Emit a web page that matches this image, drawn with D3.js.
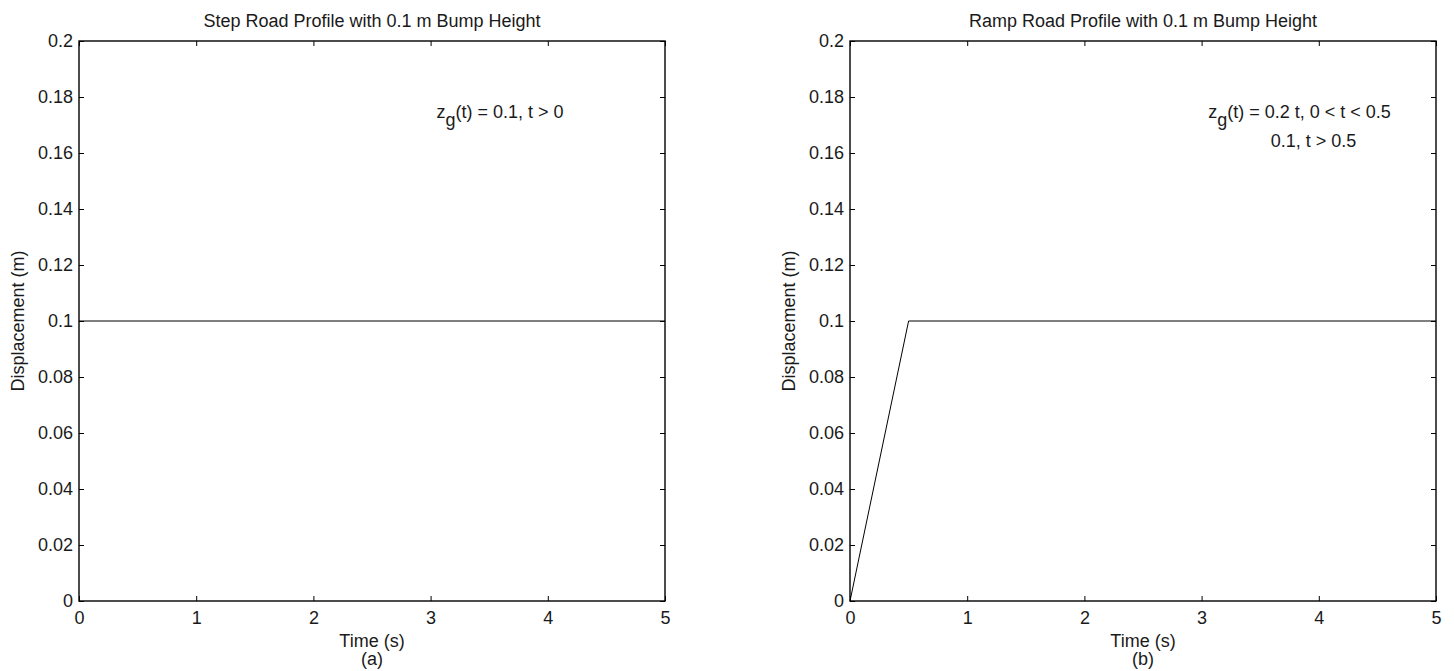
<!DOCTYPE html>
<html><head><meta charset="utf-8">
<script src="https://cdn.jsdelivr.net/npm/d3@7"></script>
<style>
body{margin:0;background:#fff;}
svg text{font-family:"Liberation Sans",Arial,sans-serif;fill:#1a1a1a;}
</style></head>
<body>
<svg id="chart" width="1454" height="671"></svg>
<script>
// Data
const stepT = [0, 5];
const stepZ = [0.1, 0.1];
const rampT = [0, 0.5, 5];
const rampZ = [0, 0.1, 0.1];
const xTicks = [0, 1, 2, 3, 4, 5];
const yTicks = [0, 0.02, 0.04, 0.06, 0.08, 0.1, 0.12, 0.14, 0.16, 0.18, 0.2];
const titles = ["Step Road Profile with 0.1 m Bump Height", "Ramp Road Profile with 0.1 m Bump Height"];
const subLabels = ["(a)", "(b)"];

const svg = d3.select("#chart");
const FS = "18px";
const panels = [
  {left: 79, right: 665, t: stepT, z: stepZ, title: titles[0], sub: subLabels[0],
   ann: [{x: 3.05, y: 0.1725, parts: [["z",0],["g",1],["(t) = 0.1, t > 0",0]]}]},
  {left: 850, right: 1436, t: rampT, z: rampZ, title: titles[1], sub: subLabels[1],
   ann: [{x: 3.057, y: 0.1725, parts: [["z",0],["g",1],["(t) = 0.2 t, 0 < t < 0.5",0]]},
         {x: 3.59, y: 0.1621, parts: [["0.1, t > 0.5",0]]}]}
];
const plotTop = 41, plotBottom = 601;

panels.forEach(p => {
  const x = d3.scaleLinear().domain([0, 5]).range([p.left, p.right]);
  const y = d3.scaleLinear().domain([0, 0.2]).range([plotBottom, plotTop]);
  const g = svg.append("g");
  const fmt = d => String(+(+d).toFixed(2));

  const ax = (axis, tr) => {
    const a = g.append("g").attr("transform", tr).call(axis);
    a.select(".domain").remove();
    a.selectAll("line").attr("stroke", "#000").attr("stroke-width", 1);
    a.selectAll("text").style("font-size", FS).attr("fill", "#1a1a1a");
    return a;
  };
  ax(d3.axisBottom(x).tickValues(xTicks).tickSize(-5).tickPadding(10).tickFormat(fmt), `translate(0,${plotBottom})`);
  ax(d3.axisTop(x).tickValues(xTicks).tickSize(-5).tickFormat(""), `translate(0,${plotTop})`);
  ax(d3.axisLeft(y).tickValues(yTicks).tickSize(-5).tickPadding(6).tickFormat(fmt), `translate(${p.left},0)`);
  ax(d3.axisRight(y).tickValues(yTicks).tickSize(-5).tickFormat(""), `translate(${p.right},0)`);

  g.append("rect").attr("x", p.left).attr("y", plotTop).attr("width", p.right - p.left).attr("height", plotBottom - plotTop)
    .attr("fill", "none").attr("stroke", "#000").attr("stroke-width", 1.4);

  const line = d3.line().x((d, i) => x(p.t[i])).y((d, i) => y(p.z[i]));
  g.append("path").datum(p.t).attr("d", line).attr("fill", "none").attr("stroke", "#000").attr("stroke-width", 1);

  const cx = (p.left + p.right) / 2;
  g.append("text").attr("x", cx).attr("y", 27).attr("text-anchor", "middle").style("font-size", FS).text(p.title);
  g.append("text").attr("x", cx).attr("y", 647).attr("text-anchor", "middle").style("font-size", FS).text("Time (s)");
  g.append("text").attr("x", cx).attr("y", 665).attr("text-anchor", "middle").style("font-size", FS).text(p.sub);
  g.append("text").attr("transform", `translate(${p.left - 55},${(plotTop + plotBottom) / 2}) rotate(-90)`)
    .attr("text-anchor", "middle").style("font-size", FS).text("Displacement (m)");

  p.ann.forEach(a => {
    const t = g.append("text").attr("x", x(a.x)).attr("y", y(a.y)).style("font-size", FS);
    a.parts.forEach(([s, sub], i) => {
      const ts = t.append("tspan").text(s);
      if (sub) ts.attr("dy", 8); else if (i > 0 && a.parts[i-1][1]) ts.attr("dy", -8);
    });
  });
});
</script>
</body></html>
